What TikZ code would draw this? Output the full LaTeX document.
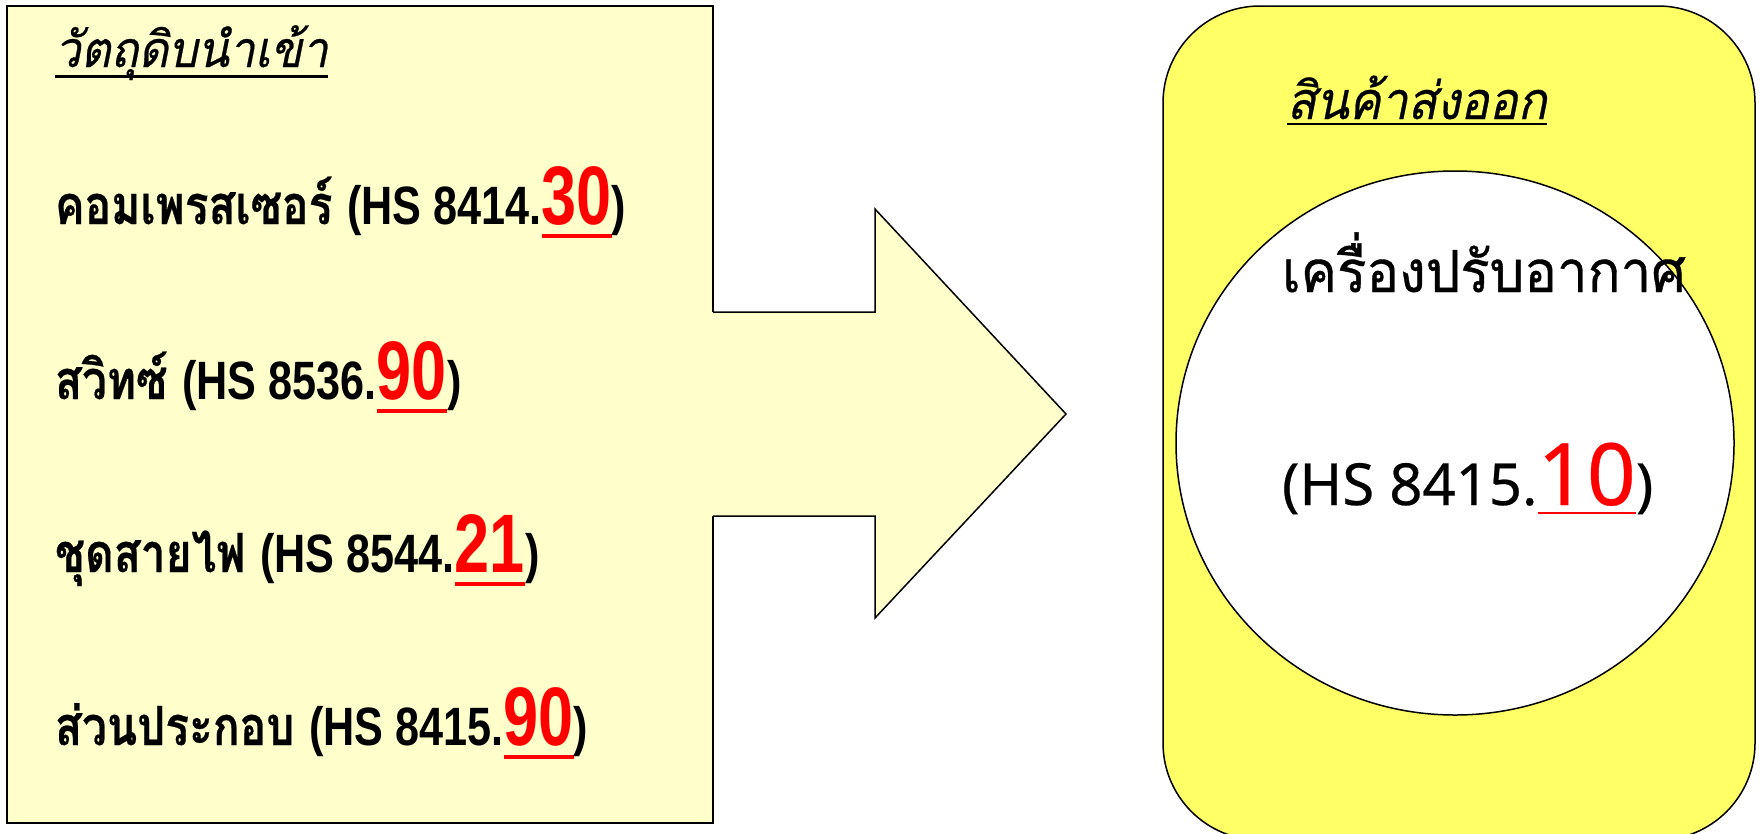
\documentclass[tikz,border=0pt]{standalone}
\usepackage{fontspec}
\usepackage{xcolor}
\newfontfamily\thr[Script=Thai,FakeStretch=0.94,FakeBold=0.6]{Loma}
\newfontfamily\thb[Script=Thai,FakeStretch=0.82,FakeBold=0.4]{Loma Bold}
\newfontfamily\thi[Script=Thai,FakeSlant=0.2,FakeStretch=0.92,FakeBold=0.5]{Loma}
\newfontfamily\lab[FakeStretch=0.8]{Liberation Sans Bold}
\newfontfamily\labn[FakeStretch=0.76]{Liberation Sans Bold}
\newfontfamily\lar[FakeBold=0.4]{Noto Sans}
\definecolor{paleY}{HTML}{FFFFCC}
\definecolor{brightY}{HTML}{FFFF66}
\definecolor{hsred}{HTML}{FF0000}
\newcommand\myul[3]{\setbox0\hbox{#3}\rlap{\rule[-#1]{\wd0}{#2}}\box0}
\newcommand\fs[1]{\fontsize{#1}{#1}\selectfont}
\newcommand\rn[1]{{\color{hsred}\labn\fs{83}\myul{14pt}{4pt}{#1}}}
\tikzset{
  txt/.style={anchor=base west, inner sep=0pt, outer sep=0pt},
  item/.style={txt, font=\fs{54}},
  outl/.style={draw=black, line width=1.5pt, line join=miter},
}
\begin{document}
\begin{tikzpicture}[x=1pt,y=-1pt]
\useasboundingbox (0,0) rectangle (1760,833);
\clip (0,0) rectangle (1760,833);
% left box
\fill[paleY] (7,6) rectangle (713,823);
\draw[outl] (7,6) rectangle (713,823);
% arrow
\fill[paleY] (711.5,312) -- (875,312) -- (875,209) -- (1066,414) -- (875,618) -- (875,516) -- (711.5,516) -- cycle;
\draw[outl] (713,312) -- (875,312) -- (875,209) -- (1066,414) -- (875,618) -- (875,516) -- (713,516);
% right rounded box
\draw[outl, fill=brightY, rounded corners=97pt] (1163,6) rectangle (1755,840);
\draw[outl, fill=white] (1455,443) ellipse [x radius=279, y radius=272];
% left texts
\node[txt, font=\fs{50}] (t1) at (55,67) {\thi\myul{11pt}{3pt}{วัตถุดิบนำเข้า}};
\node[item] (i1) at (55,224) {\thb คอมเพรสเซอร์ \lab(HS 8414.\rn{30})};
\node[item] (i2) at (55,399) {\thb สวิทซ์ \lab(HS 8536.\rn{90})};
\node[item] (i3) at (55,572) {\thb ชุดสายไฟ \lab(HS 8544.\rn{21})};
\node[item] (i4) at (55,745) {\thb ส่วนประกอบ \lab(HS 8415.\rn{90})};
% right texts
\node[txt, font=\fs{52}] (t2) at (1287,119) {\thi\myul{6pt}{2.5pt}{สินค้าส่งออก}};
\node[txt, font=\fs{58}] (p1) at (1282,292) {\thr เครื่องปรับอากาศ};
\node[txt, font=\fs{58}] (p2) at (1282,505) {\lar(HS 8415.{\color{hsred}\fs{86}\myul{9pt}{2.5pt}{10}})};
\end{tikzpicture}
\end{document}
